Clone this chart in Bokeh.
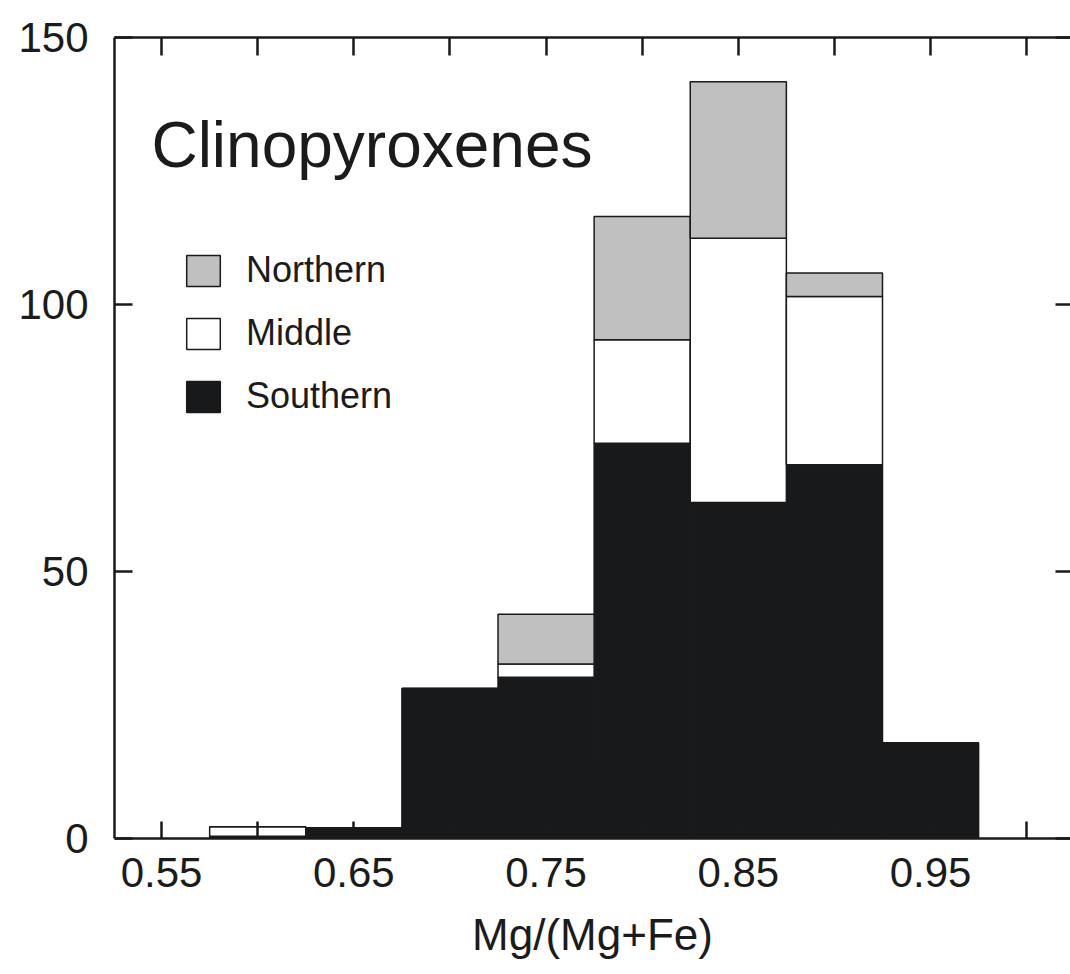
from bokeh.plotting import figure
from bokeh.models import (ColumnDataSource, Range1d, FixedTicker, LinearAxis,
                          Legend, LegendItem, Label)
from bokeh.embed import file_html
from bokeh.resources import INLINE

# ---- data ----
bin_centers = [0.60, 0.65, 0.70, 0.75, 0.80, 0.85, 0.90, 0.95]
southern = [0.4, 2.0, 28.1, 30.2, 74.0, 62.9, 70.0, 17.9]
middle = [1.8, 0.0, 0.0, 2.5, 19.4, 49.5, 31.5, 0.0]
northern = [0.0, 0.0, 0.0, 9.3, 23.1, 29.3, 4.4, 0.0]
group_names = ["Southern", "Middle", "Northern"]
x_label_ticks = [0.55, 0.65, 0.75, 0.85, 0.95]
x_between_ticks = [0.60, 0.70, 0.80, 0.90, 1.00]
y_ticks = [0, 50, 100, 150]

FONT = "Liberation Sans"
TXT = "#1c1b1c"
colors = ["#18191b", "#ffffff", "#c0c0c0"]

src = ColumnDataSource(dict(x=bin_centers, Southern=southern,
                            Middle=middle, Northern=northern))

p = figure(width=1070, height=974,
           x_range=Range1d(0.5255, 1.0228), y_range=Range1d(0, 150),
           output_backend="svg", toolbar_location=None,
           x_axis_location=None, y_axis_location=None,
           min_border_left=114, min_border_right=0,
           min_border_top=37, min_border_bottom=136)
p.outline_line_color = None
p.background_fill_color = "white"
p.border_fill_color = "white"
for g in p.grid:
    g.visible = False

rs = p.vbar_stack(group_names, x="x", width=0.05, source=src,
                  fill_color=colors, line_color="#1a1a1a", line_width=1.5)


def style_axis(ax, labels=True, line=True, tick_len=17):
    ax.major_tick_in = tick_len
    ax.major_tick_out = 0
    ax.minor_tick_in = tick_len
    ax.minor_tick_out = 0
    ax.axis_line_width = 2.5
    ax.axis_line_color = "#1a1a1a" if line else None
    ax.major_tick_line_width = 2.5
    ax.minor_tick_line_width = 2.5
    ax.major_tick_line_color = "#1a1a1a"
    ax.minor_tick_line_color = "#1a1a1a"
    if labels:
        ax.major_label_text_font = FONT
        ax.major_label_text_font_size = "42px"
        ax.major_label_text_color = TXT
    else:
        # tick marks only: labels are not painted at all
        ax.major_label_text_color = None
        ax.major_label_text_font_size = "1px"
        ax.major_label_standoff = 0


xb = LinearAxis(ticker=FixedTicker(ticks=x_label_ticks, minor_ticks=x_between_ticks),
                axis_label="Mg/(Mg+Fe)")
style_axis(xb)
xb.major_label_standoff = 19
xb.axis_label_text_font = FONT
xb.axis_label_text_font_size = "44px"
xb.axis_label_text_font_style = "normal"
xb.axis_label_text_color = TXT
xb.axis_label_standoff = 20
p.add_layout(xb, "below")

xt = LinearAxis(ticker=FixedTicker(ticks=x_label_ticks, minor_ticks=x_between_ticks))
style_axis(xt, labels=False, tick_len=18)
p.add_layout(xt, "above")

yl = LinearAxis(ticker=FixedTicker(ticks=y_ticks))
style_axis(yl, tick_len=18)
yl.major_label_standoff = 26
p.add_layout(yl, "left")

yr = LinearAxis(ticker=FixedTicker(ticks=y_ticks))
style_axis(yr, labels=False, line=False, tick_len=15)
p.add_layout(yr, "right")

legend = Legend(items=[LegendItem(label="Northern", renderers=[rs[2]]),
                       LegendItem(label="Middle", renderers=[rs[1]]),
                       LegendItem(label="Southern", renderers=[rs[0]])],
                location=(68, 421), glyph_width=42, glyph_height=39,
                label_height=39, spacing=21, label_standoff=22,
                label_text_font=FONT, label_text_font_size="36px",
                label_text_color=TXT, padding=0, margin=0,
                border_line_color=None, background_fill_alpha=0)
p.add_layout(legend)

title = Label(x=0.5447, y=129.8, text="Clinopyroxenes", text_font=FONT,
              text_font_size="64px", text_color=TXT, text_baseline="alphabetic")
p.add_layout(title)

open("out.html", "w").write(file_html(p, INLINE))
